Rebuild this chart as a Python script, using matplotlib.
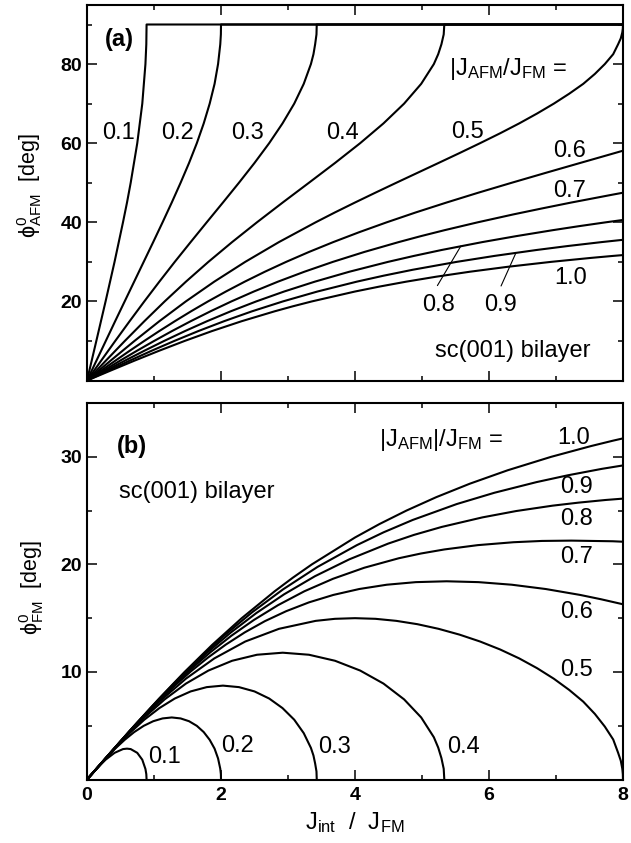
import matplotlib
matplotlib.use("Agg")
import matplotlib.pyplot as plt

plt.rcParams["font.family"] = "Liberation Sans"
plt.rcParams["mathtext.fontset"] = "custom"
plt.rcParams["mathtext.rm"] = "Liberation Sans"
plt.rcParams["mathtext.it"] = "Liberation Sans"
plt.rcParams["mathtext.bf"] = "Liberation Sans:bold"
plt.rcParams["mathtext.sf"] = "Liberation Sans"
plt.rcParams["mathtext.default"] = "rm"
plt.rcParams["mathtext.fallback"] = "stixsans"

# ===================== curves: J_int/J_FM, phi_AFM, phi_FM per |J_AFM|/J_FM =====================
ratios = ["0.1", "0.2", "0.3", "0.4", "0.5", "0.6", "0.7", "0.8", "0.9", "1.0"]

jint_01 = [0, 0.139, 0.277, 0.411, 0.537, 0.597, 0.652, 0.750, 0.825, 0.872, 0.885, 0.889]
afm_01 = [0, 10, 20, 30, 40, 45, 50, 60, 70, 80, 85, 90]
fm_01 = [0, 0.98, 1.84, 2.48, 2.83, 2.87, 2.83, 2.48, 1.84, 0.98, 0.50, 0]

jint_02 = [0, 0.280, 0.420, 0.562, 0.704, 0.846, 0.988, 1.128, 1.265, 1.397, 1.523,
           1.639, 1.742, 1.831, 1.904, 1.956, 1.989, 1.998, 2.0]
afm_02 = [0, 10, 15, 20, 25, 30, 35, 40, 45, 50, 55, 60, 65, 70, 75, 80, 85, 87.5, 90]
fm_02 = [0, 1.96, 2.87, 3.69, 4.41, 4.99, 5.42, 5.68, 5.77, 5.68, 5.42, 4.99, 4.41,
         3.69, 2.87, 1.96, 1.00, 0.50, 0]

jint_03 = [0, 0.210, 0.421, 0.636, 0.855, 1.080, 1.310, 1.547, 1.787, 2.029, 2.268,
           2.500, 2.719, 2.918, 3.093, 3.235, 3.342, 3.380, 3.405, 3.425, 3.429]
afm_03 = [0, 5, 10, 15, 20, 25, 30, 35, 40, 45, 50, 55, 60, 65, 70, 75, 80, 82.5, 85,
          87.5, 90]
fm_03 = [0, 1.49, 2.94, 4.31, 5.56, 6.64, 7.53, 8.19, 8.59, 8.73, 8.59, 8.19, 7.53,
         6.64, 5.56, 4.31, 2.94, 2.23, 1.49, 0.75, 0]

jint_04 = [0, 0.280, 0.564, 0.856, 1.159, 1.477, 1.812, 2.166, 2.537, 2.921, 3.313,
           3.702, 4.077, 4.425, 4.733, 4.988, 5.177, 5.242, 5.290, 5.324, 5.333]
afm_04 = [0, 5, 10, 15, 20, 25, 30, 35, 40, 45, 50, 55, 60, 65, 70, 75, 80, 82.5, 85,
          87.5, 90]
fm_04 = [0, 1.99, 3.93, 5.77, 7.45, 8.92, 10.13, 11.04, 11.60, 11.79, 11.60, 11.04,
         10.13, 8.92, 7.45, 5.77, 3.93, 2.97, 1.99, 1.00, 0]

jint_05 = [0, 0.350, 0.708, 1.080, 1.475, 1.900, 2.362, 2.865, 3.413, 3.701, 4.000,
           4.306, 4.617, 4.932, 5.247, 5.560, 5.867, 6.166, 6.451, 6.718, 6.968, 7.197,
           7.407, 7.580, 7.729, 7.854, 7.927, 7.967, 7.990, 7.998, 8.0]
afm_05 = [0, 5, 10, 15, 20, 25, 30, 35, 40, 42.5, 45, 47.5, 50, 52.5, 55, 57.5, 60,
          62.5, 65, 67.5, 70, 72.5, 75, 77.5, 80, 82.5, 85, 86.5, 88, 89, 90]
fm_05 = [0, 2.49, 4.92, 7.24, 9.37, 11.26, 12.83, 14.01, 14.75, 14.94, 15.00, 14.94,
         14.75, 14.44, 14.01, 13.47, 12.83, 12.09, 11.26, 10.35, 9.37, 8.33, 7.24, 6.10,
         4.92, 3.72, 2.49, 1.75, 1.00, 0.50, 0]

jint_06 = [0, 0.421, 0.635, 0.854, 1.078, 1.311, 1.553, 1.806, 2.073, 2.355, 2.654,
           2.973, 3.313, 3.676, 4.063, 4.474, 4.908, 5.367, 5.844, 6.340, 6.847, 7.361,
           7.671, 7.980, 8.39]
afm_06 = [0, 5, 7.5, 10, 12.5, 15, 17.5, 20, 22.5, 25, 27.5, 30, 32.5, 35, 37.5, 40,
          42.5, 45, 47.5, 50, 52.5, 55, 56.5, 58, 60]
fm_06 = [0, 2.99, 4.47, 5.92, 7.34, 8.73, 10.07, 11.34, 12.55, 13.68, 14.72, 15.65,
         16.47, 17.16, 17.71, 18.11, 18.35, 18.43, 18.35, 18.11, 17.71, 17.16, 16.76,
         16.32, 15.65]

jint_07 = [0, 0.492, 0.743, 1.001, 1.268, 1.548, 1.843, 2.155, 2.490, 2.851, 3.244,
           3.671, 4.139, 4.653, 4.983, 5.335, 5.833, 6.365, 6.790, 7.229, 7.848, 8.166]
afm_07 = [0, 5, 7.5, 10, 12.5, 15, 17.5, 20, 22.5, 25, 27.5, 30, 32.5, 35, 36.5, 38,
          40, 42, 43.5, 45, 47, 48]
fm_07 = [0, 3.49, 5.22, 6.93, 8.60, 10.24, 11.84, 13.37, 14.83, 16.21, 17.50, 18.66,
         19.69, 20.57, 21.01, 21.39, 21.79, 22.06, 22.18, 22.21, 22.15, 22.06]

jint_08 = [0, 0.563, 0.852, 1.150, 1.462, 1.792, 2.145, 2.526, 2.942, 3.402, 3.915,
           4.494, 4.879, 5.293, 5.902, 6.406, 6.949, 7.335, 7.745, 8.178]
afm_08 = [0, 5, 7.5, 10, 12.5, 15, 17.5, 20, 22.5, 25, 27.5, 30, 31.5, 33, 35, 36.5,
          38, 39, 40, 41]
fm_08 = [0, 3.99, 5.97, 7.94, 9.88, 11.79, 13.66, 15.47, 17.22, 18.90, 20.47, 21.93,
         22.74, 23.48, 24.37, 24.96, 25.46, 25.74, 25.99, 26.20]

jint_09 = [0, 0.634, 0.961, 1.302, 1.661, 2.046, 2.463, 2.924, 3.439, 4.028, 4.426,
           4.861, 5.519, 6.081, 6.710, 7.175, 7.683, 8.237]
afm_09 = [0, 5, 7.5, 10, 12.5, 15, 17.5, 20, 22.5, 25, 26.5, 28, 30, 31.5, 33, 34, 35, 36]
fm_09 = [0, 4.50, 6.73, 8.96, 11.18, 13.37, 15.54, 17.67, 19.76, 21.79, 22.98, 24.13,
         25.61, 26.66, 27.65, 28.28, 28.88, 29.44]

jint_10 = [0, 0.350, 0.705, 1.072, 1.456, 1.865, 2.309, 2.801, 3.069, 3.356, 4.0,
           4.365, 4.767, 5.213, 5.713, 6.279, 6.928, 7.523, 7.850, 8.201]
afm_10 = [0, 2.5, 5, 7.5, 10, 12.5, 15, 17.5, 18.75, 20, 22.5, 23.75, 25, 26.25, 27.5,
          28.75, 30, 31, 31.5, 32]
fm_10 = [0, 2.5, 5, 7.5, 10, 12.5, 15, 17.5, 18.75, 20, 22.5, 23.75, 25, 26.25, 27.5,
         28.75, 30, 31, 31.5, 32]

curves = [
    (jint_01, afm_01, fm_01), (jint_02, afm_02, fm_02), (jint_03, afm_03, fm_03),
    (jint_04, afm_04, fm_04), (jint_05, afm_05, fm_05), (jint_06, afm_06, fm_06),
    (jint_07, afm_07, fm_07), (jint_08, afm_08, fm_08), (jint_09, afm_09, fm_09),
    (jint_10, afm_10, fm_10),
]

J_MAX = 8.0
FLOP = 90.0

# ===================== figure / axes =====================
fig = plt.figure(figsize=(6.31, 8.43), dpi=100)
ax_a = fig.add_axes([0.1379, 0.5486, 0.8494, 0.4458])
ax_b = fig.add_axes([0.1379, 0.0753, 0.8494, 0.4466])

LW = 1.5
for j, a, f in curves:
    # once phi_AFM reaches 90 deg it stays there up to the end of the axis
    if a[-1] >= FLOP:
        ax_a.plot(j + [J_MAX], a + [FLOP], color="black", lw=LW)
    else:
        ax_a.plot(j, a, color="black", lw=LW)
    ax_b.plot(j, f, color="black", lw=LW)

for ax in (ax_a, ax_b):
    ax.set_xlim(0, 8)
    ax.set_xticks([0, 2, 4, 6, 8])
    ax.set_xticks([1, 3, 5, 7], minor=True)
    ax.tick_params(which="both", direction="in", top=True, right=True, width=1.1)
    ax.tick_params(which="major", length=7)
    ax.tick_params(which="minor", length=3.5)
    ax.tick_params(axis="y", labelsize=14, pad=3.5)
    ax.tick_params(axis="x", labelsize=14, pad=5.5)
    for s in ax.spines.values():
        s.set_linewidth(1.5)

ax_a.set_ylim(0, 95)
ax_a.set_yticks([20, 40, 60, 80])
ax_a.set_yticks([10, 30, 50, 70, 90], minor=True)
ax_a.tick_params(axis="x", labelbottom=False)

ax_b.set_ylim(0, 35)
ax_b.set_yticks([10, 20, 30])
ax_b.set_yticks([5, 15, 25], minor=True)

for ax in (ax_a, ax_b):
    plt.setp(ax.get_yticklabels(), fontweight="bold")
plt.setp(ax_b.get_xticklabels(), fontweight="bold")

# ===================== axis labels =====================
ax_a.set_ylabel(r"$\phi^0_\mathrm{AFM}$  [deg]", fontsize=15.5)
ax_a.yaxis.set_label_coords(-0.107, 0.52)
ax_a.yaxis.label.set_va("center")
ax_b.set_ylabel(r"$\phi^0_\mathrm{FM}$  [deg]", fontsize=15.5)
ax_b.yaxis.set_label_coords(-0.103, 0.509)
ax_b.yaxis.label.set_va("center")
ax_b.set_xlabel(r"$\mathrm{J}_\mathrm{int}$  /  $\mathrm{J}_\mathrm{FM}$", fontsize=17)
ax_b.xaxis.set_label_coords(0.5, -0.1155)
ax_b.xaxis.label.set_va("center")

# ===================== annotations, panel (a) =====================
FS = 17
ax_a.text(0.27, 84.5, "(a)", fontsize=FS, fontweight="bold", va="baseline")
ax_a.text(5.41, 77.3, r"$|\mathrm{J}_\mathrm{AFM}/\mathrm{J}_\mathrm{FM}$ =", fontsize=FS, va="baseline")
ax_a.text(5.19, 6.0, "sc(001) bilayer", fontsize=FS, va="baseline")
label_pos_a = [(0.463, 61.05), (1.351, 61.05), (2.40, 61.05), (3.81, 61.05), (5.68, 61.3),
               (7.21, 56.4), (7.21, 46.3), (5.25, 17.7), (6.17, 17.7), (7.22, 24.35)]
for txt, (x, y) in zip(ratios, label_pos_a):
    ax_a.text(x, y, txt, fontsize=FS, ha="center", va="baseline")
# leader lines for the crowded 0.8 / 0.9 curves
ax_a.annotate("", xy=(5.58, 34.0), xytext=(5.23, 24.0),
              arrowprops=dict(arrowstyle="-", lw=0.8, shrinkA=0, shrinkB=0))
ax_a.annotate("", xy=(6.40, 32.2), xytext=(6.18, 23.9),
              arrowprops=dict(arrowstyle="-", lw=0.8, shrinkA=0, shrinkB=0))

# ===================== annotations, panel (b) =====================
ax_b.text(0.45, 30.4, "(b)", fontsize=FS, fontweight="bold", va="baseline")
ax_b.text(0.478, 26.2, "sc(001) bilayer", fontsize=FS, va="baseline")
ax_b.text(4.36, 31.0, r"$|\mathrm{J}_\mathrm{AFM}|/\mathrm{J}_\mathrm{FM}$ =", fontsize=FS, va="baseline")
label_pos_b = [(1.15, 1.5), (2.25, 2.6), (3.69, 2.5), (5.62, 2.5), (7.31, 9.6),
               (7.31, 15.0), (7.31, 20.1), (7.31, 23.7), (7.31, 26.6), (7.27, 31.2)]
for txt, (x, y) in zip(ratios, label_pos_b):
    ax_b.text(x, y, txt, fontsize=FS, ha="center", va="baseline")

fig.savefig("out.png", dpi=100)
